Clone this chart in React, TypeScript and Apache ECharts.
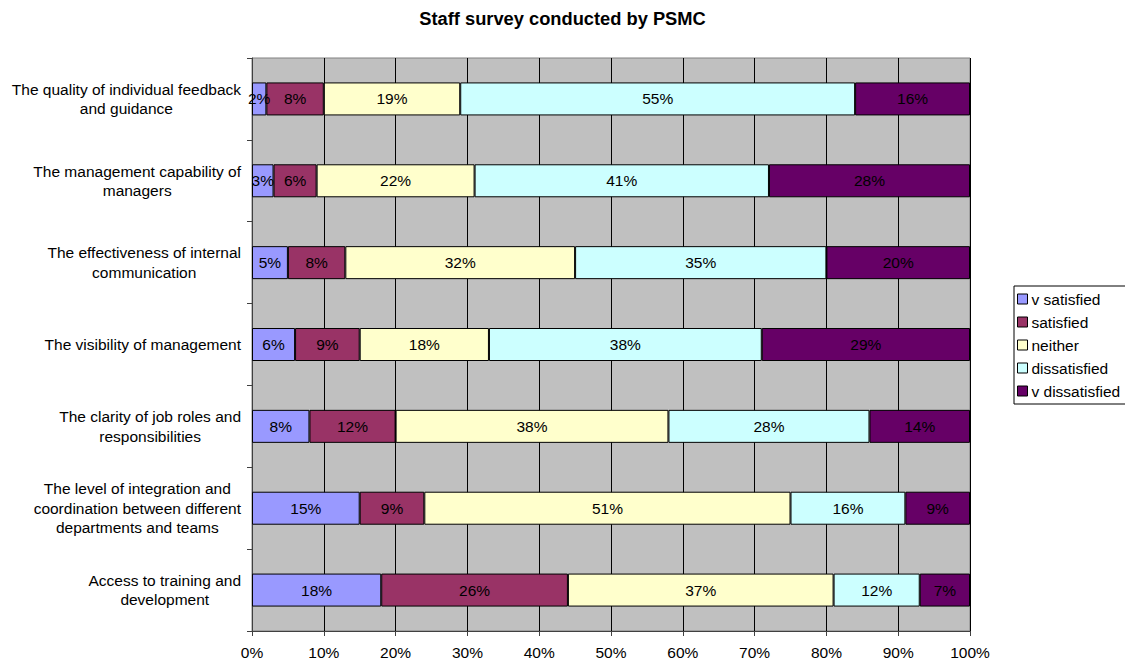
import React, { useEffect, useRef } from "react";
import * as echarts from "echarts";

// Survey questions, top to bottom (line breaks as wrapped on the axis)
const categories = [
  "The quality of individual feedback\nand guidance",
  "The management capability of\nmanagers",
  "The effectiveness of internal\ncommunication",
  "The visibility of management",
  "The clarity of job roles and\nresponsibilities",
  "The level of integration and\ncoordination between different\ndepartments and teams",
  "Access to training and\ndevelopment",
];

const seriesNames = ["v satisfied", "satisfied", "neither", "dissatisfied", "v dissatisfied"];

// Percent of respondents per answer, in category order
const vSatisfied = [2, 3, 5, 6, 8, 15, 18];
const satisfied = [8, 6, 8, 9, 12, 9, 26];
const neither = [19, 22, 32, 18, 38, 51, 37];
const dissatisfied = [55, 41, 35, 38, 28, 16, 12];
const vDissatisfied = [16, 28, 20, 29, 14, 9, 7];

const xTicks = [0, 10, 20, 30, 40, 50, 60, 70, 80, 90, 100];

const colors = ["#9999FF", "#993366", "#FFFFCC", "#CCFFFF", "#660066"];
const FONT = 'Arial, "Liberation Sans", sans-serif';
const FS = 15.5;

export default function App() {
  const ref = useRef<HTMLDivElement>(null);

  useEffect(() => {
    if (!ref.current) return;
    const chart = echarts.init(ref.current, undefined, { renderer: "svg" });
    const values = [vSatisfied, satisfied, neither, dissatisfied, vDissatisfied];

    chart.setOption({
      animation: false,
      backgroundColor: "#FFFFFF",
      textStyle: { fontFamily: FONT },
      title: {
        text: "Staff survey conducted by PSMC",
        left: "center",
        top: 9,
        padding: 0,
        textStyle: { fontFamily: FONT, fontSize: 18.3, fontWeight: "bold", color: "#000" },
      },
      legend: {
        orient: "vertical",
        left: 1014,
        top: 286,
        padding: [5, 20, 5, 3],
        itemGap: 7,
        itemWidth: 10,
        itemHeight: 10,
        icon: "rect",
        borderColor: "#000",
        borderWidth: 1,
        itemStyle: { borderColor: "#000", borderWidth: 1 },
        textStyle: { fontFamily: FONT, fontSize: FS, color: "#000", padding: [0, 0, 0, -1] },
        data: seriesNames,
      },
      grid: {
        left: 252,
        right: 155,
        top: 58,
        bottom: 31,
        show: true,
        backgroundColor: "#C0C0C0",
        borderColor: "#808080",
        borderWidth: 1,
      },
      xAxis: {
        type: "value",
        min: xTicks[0],
        max: xTicks[xTicks.length - 1],
        interval: 10,
        axisLine: { show: true, lineStyle: { color: "#404040", width: 1 } },
        axisTick: { show: true, length: 5, lineStyle: { color: "#404040" } },
        axisLabel: {
          margin: 13,
          fontFamily: FONT,
          fontSize: FS,
          color: "#000",
          formatter: (v: number) => `${v}%`,
        },
        splitLine: { show: true, lineStyle: { color: "#000", width: 1 } },
      },
      yAxis: {
        type: "category",
        inverse: true,
        data: categories,
        axisLine: { show: true, lineStyle: { color: "#404040", width: 1 } },
        axisTick: { show: true, length: 5, alignWithLabel: false, lineStyle: { color: "#404040" } },
        axisLabel: {
          margin: 11,
          formatter: (v: string) =>
            v
              .split("\n")
              .map((line) => `{c|${line}}`)
              .join("\n"),
          rich: {
            c: { align: "center", fontFamily: FONT, fontSize: FS, lineHeight: 19.5, color: "#000" },
          },
        },
        splitLine: { show: false },
      },
      series: seriesNames.map((name, i) => ({
        name,
        type: "bar",
        stack: "total",
        barWidth: 33,
        data: values[i],
        itemStyle: { color: colors[i], borderColor: "#000", borderWidth: 1 },
        label: {
          show: true,
          position: "inside",
          formatter: "{c}%",
          fontFamily: FONT,
          fontSize: FS,
          color: "#000",
          textBorderWidth: 0,
        },
      })),
    });

    return () => chart.dispose();
  }, []);

  return (
    <div
      ref={ref}
      style={{ position: "absolute", left: 0, top: 0, width: 1125, height: 662 }}
    />
  );
}
